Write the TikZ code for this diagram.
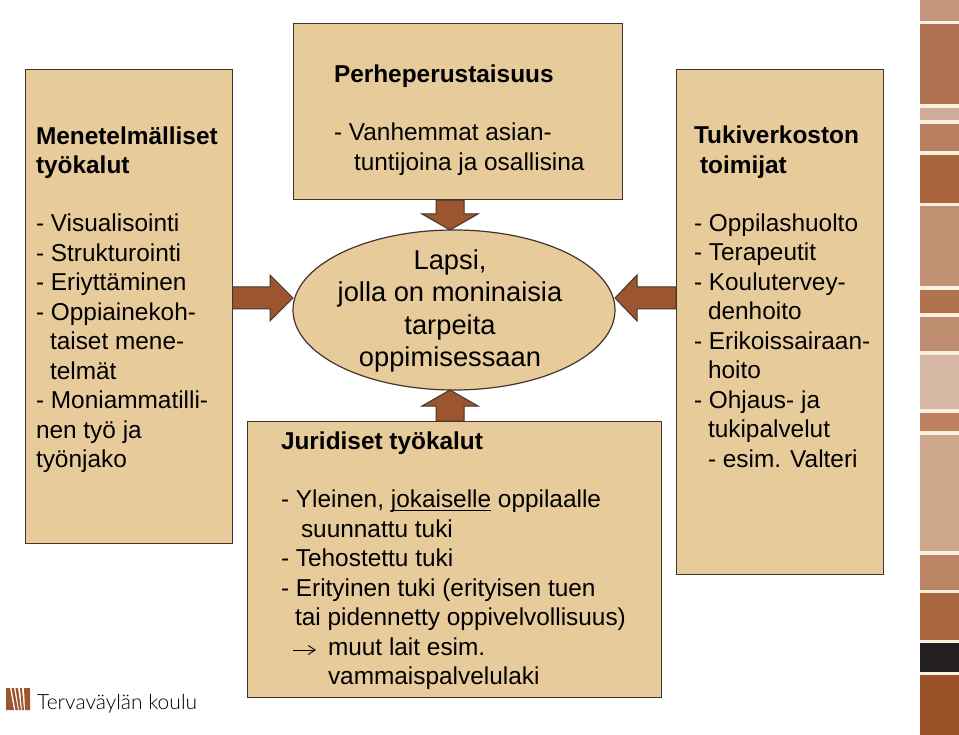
\documentclass[tikz,border=0pt]{standalone}
\usepackage{fontspec}
\setmainfont{Liberation Sans}
\newfontfamily\logofont{Lato Light}
\usetikzlibrary{calc,arrows.meta,shapes.geometric}
\definecolor{boxfill}{HTML}{E8CB9B}
\definecolor{boxline}{HTML}{43352A}
\definecolor{arrfill}{HTML}{9C552E}
\definecolor{gapc}{HTML}{FBEFE0}
\newcommand{\lineunder}[1]{\setbox0\hbox{#1}\rlap{\rule[-3.2pt]{\wd0}{1.1pt}}#1}
\tikzset{
  x=1pt,y=-1pt,
  panel/.style={draw=boxline,fill=boxfill,line width=1.2pt},
  txt/.style={inner sep=0pt,outer sep=0pt,anchor=north west,align=left,text=black,
    font=\fontsize{24.4}{29.5}\selectfont},
  centretxt/.style={inner sep=0pt,outer sep=0pt,align=center,text=black,
    font=\fontsize{27.3}{32.5}\selectfont},
  blockarrow/.style n args={3}{draw=boxline,fill=arrfill,line width=1pt,
    to path={
      ($(\tikztostart)!#3!90:(\tikztotarget)$)
      -- ($($(\tikztotarget)!#1!(\tikztostart)$)!#3!-90:(\tikztostart)$)
      -- ($($(\tikztotarget)!#1!(\tikztostart)$)!#2!-90:(\tikztostart)$)
      -- (\tikztotarget)
      -- ($($(\tikztotarget)!#1!(\tikztostart)$)!#2!90:(\tikztostart)$)
      -- ($($(\tikztotarget)!#1!(\tikztostart)$)!#3!90:(\tikztostart)$)
      -- ($(\tikztostart)!#3!-90:(\tikztotarget)$)
      -- cycle}},
  stripe/.style={fill=arrfill,draw=none},
}
\begin{document}
\begin{tikzpicture}
\useasboundingbox (0,0) rectangle (959,735);
\fill[white] (0,0) rectangle (959,735);
% side band
\fill[gapc] (920,0) rectangle (959,735);
\foreach \a/\b/\c in {0/21/C4957A,24/104.5/B07250,108/120/D0AD98,124/151/B87F60,155/203/A9643C,206/286/C29173,290/313/B07350,317/351/BF8E70,355/409/D6B7A3,413/431/BC8060,435/551/CDA68C,555/590/BB8464,593/640/A8663F,643/672/231F20,675/735/9C5229}{
  \definecolor{segc}{HTML}{\c}
  \fill[segc] (920,\a) rectangle (959,\b);
}
% panels
\node[panel,minimum width=206.5pt,minimum height=474pt,inner sep=0pt,anchor=north west] (left) at (25,69) {};
\node[panel,minimum width=329pt,minimum height=176pt,inner sep=0pt,anchor=north west] (top) at (293,23) {};
\node[panel,minimum width=206.5pt,minimum height=505pt,inner sep=0pt,anchor=north west] (right) at (676,69) {};
\node[panel,minimum width=414pt,minimum height=276pt,inner sep=0pt,anchor=north west] (bottom) at (247,421) {};
\node[panel,ellipse,minimum width=322pt,minimum height=160pt,inner sep=0pt] (child) at (454,310) {};
% connector ends
\coordinate (tipL) at (293,298);
\coordinate (tipR) at (615,298);
\coordinate (tipT) at (450,230);
\coordinate (tipB) at (450,390);
\draw[blockarrow={23pt}{23pt}{11pt}] (left.east |- tipL) to (tipL);
\draw[blockarrow={22pt}{23pt}{11pt}] (right.west |- tipR) to (tipR);
\draw[blockarrow={16pt}{28pt}{14pt}] (top.south -| tipT) to (tipT);
\draw[blockarrow={16pt}{28pt}{14pt}] (bottom.north -| tipB) to (tipB);
% texts
\node[txt] (lefttext) at (36,126.5) {\textbf{Menetelmälliset}\\\textbf{työkalut}\\[28.5pt]
- Visualisointi\\- Strukturointi\\- Eriyttäminen\\- Oppiainekoh-\\\hspace*{14pt}taiset mene-\\\hspace*{14pt}telmät\\- Moniammatilli-\\nen työ ja\\työnjako};
\node[txt] (toptext) at (334,64.5) {\textbf{Perheperustaisuus}\\[29pt]
- Vanhemmat asian-\\\hspace*{20pt}tuntijoina ja osallisina};
\node[txt] (righttext) at (694,126) {\textbf{Tukiverkoston}\\\hspace*{6pt}\textbf{toimijat}\\[28.5pt]
- Oppilashuolto\\- Terapeutit\\- Koulutervey-\\\hspace*{14pt}denhoito\\- Erikoissairaan-\\\hspace*{14pt}hoito\\- Ohjaus- ja\\\hspace*{14pt}tukipalvelut\\\hspace*{14pt}- esim. Valteri};
\node[txt] (bottomtext) at (281,432) {\textbf{Juridiset työkalut}\\[28.5pt]
- Yleinen, \lineunder{jokaiselle} oppilaalle\\\hspace*{20pt}suunnattu tuki\\- Tehostettu tuki\\- Erityinen tuki (erityisen tuen\\\hspace*{14pt}tai pidennetty oppivelvollisuus)\\\hspace*{47pt}muut lait esim.\\\hspace*{47pt}vammaispalvelulaki};
\node[centretxt] (childtext) at (450,311) {Lapsi,\\jolla on moninaisia\\tarpeita\\oppimisessaan};
% small arrow
\coordinate (sa) at (293,650);
\coordinate (sb) at (316,650);
\draw[line width=.9pt,-{Straight Barb[length=7pt,width=9pt]}] (sa) -- (sb);
% logo
\fill[stripe] (6,688) -- (10,688) -- (14,710) -- (6,710) -- cycle;
\fill[stripe] (11.5,688) -- (14,688) -- (18,710) -- (15.5,710) -- cycle;
\fill[stripe] (15.5,688) -- (18,688) -- (21,710) -- (19,710) -- cycle;
\fill[stripe] (20,688) -- (22,688) -- (24,710) -- (22,710) -- cycle;
\fill[stripe] (24,688) -- (30,688) -- (30,710) -- (25,710) -- cycle;
\node[inner sep=0pt,anchor=base west,text=black,font=\logofont\fontsize{21}{24}\selectfont] (logo) at (37,709) {Tervaväylän koulu};
\end{tikzpicture}
\end{document}
